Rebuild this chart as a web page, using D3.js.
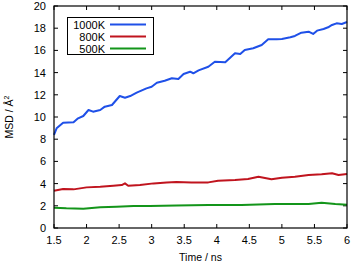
<!DOCTYPE html>
<html><head><meta charset="utf-8">
<script src="https://cdn.jsdelivr.net/npm/d3@7"></script>
<style>body{margin:0;background:#fff}svg{display:block}text{font-family:"Liberation Sans",Arial,sans-serif;fill:#000}</style>
</head><body><svg id="c" width="353" height="265"></svg>
<script>
const xTicks = [1.5, 2, 2.5, 3, 3.5, 4, 4.5, 5, 5.5, 6];
const yTicks = [0, 2, 4, 6, 8, 10, 12, 14, 16, 18, 20];
const seriesNames = ["1000K", "800K", "500K"];
const seriesColors = ["#1f50e8", "#c0141e", "#13951a"];
const t1000 = [1.5,1.54,1.64,1.8,1.87,1.95,2.03,2.1,2.21,2.28,2.39,2.51,2.59,2.67,2.77,2.92,3.0,3.08,3.2,3.31,3.41,3.49,3.59,3.64,3.72,3.87,3.97,4.13,4.28,4.36,4.43,4.56,4.69,4.79,4.92,5.0,5.13,5.2,5.3,5.41,5.48,5.54,5.64,5.71,5.77,5.84,5.92,6.0];
const v1000 = [8.4,8.98,9.49,9.52,9.88,10.09,10.63,10.48,10.63,10.93,11.08,11.89,11.74,11.89,12.19,12.58,12.73,13.09,13.27,13.49,13.42,13.87,14.08,13.94,14.2,14.53,14.98,14.93,15.74,15.68,16.04,16.19,16.49,17.0,17.0,17.03,17.18,17.3,17.6,17.69,17.48,17.78,17.93,18.08,18.29,18.44,18.38,18.56];
const t800 = [1.5,1.64,1.8,1.9,2.0,2.21,2.41,2.54,2.59,2.64,2.82,3.03,3.23,3.38,3.61,3.87,4.02,4.28,4.48,4.64,4.84,5.0,5.2,5.41,5.61,5.77,5.87,6.0];
const v800 = [3.36,3.51,3.48,3.57,3.66,3.72,3.81,3.87,4.02,3.81,3.87,4.02,4.11,4.14,4.11,4.11,4.26,4.32,4.41,4.62,4.39,4.53,4.62,4.77,4.84,4.93,4.77,4.86];
const t500 = [1.5,1.69,1.95,2.21,2.46,2.72,2.97,3.38,3.87,4.38,4.89,5.41,5.61,5.82,6.0];
const v500 = [1.83,1.77,1.74,1.86,1.92,1.98,1.98,2.03,2.07,2.07,2.16,2.16,2.28,2.16,2.1];

const svg = d3.select("#c");
const L = 54, R = 347, T = 6, B = 228;
const x = d3.scaleLinear().domain([1.5, 6]).range([L, R]);
const y = d3.scaleLinear().domain([0, 20]).range([B, T]);

// ticks (inward, mirrored)
const g = svg.append("g");
xTicks.forEach(v => {
  g.append("line").attr("x1", x(v)).attr("x2", x(v)).attr("y1", B).attr("y2", B - 4).attr("stroke", "#000");
  g.append("line").attr("x1", x(v)).attr("x2", x(v)).attr("y1", T).attr("y2", T + 4).attr("stroke", "#000");
  g.append("text").attr("x", x(v)).attr("y", 244).attr("text-anchor", "middle").attr("font-size", 11).text(v);
});
yTicks.forEach(v => {
  g.append("line").attr("x1", L).attr("x2", L + 4).attr("y1", y(v)).attr("y2", y(v)).attr("stroke", "#000");
  g.append("line").attr("x1", R).attr("x2", R - 4).attr("y1", y(v)).attr("y2", y(v)).attr("stroke", "#000");
  g.append("text").attr("x", 46).attr("y", y(v) + 4).attr("text-anchor", "end").attr("font-size", 11).text(v);
});

const line = d3.line().x(d => x(d[0])).y(d => y(d[1]));
const data = [d3.zip(t1000, v1000), d3.zip(t800, v800), d3.zip(t500, v500)];
data.forEach((d, i) => {
  svg.append("path").datum(d).attr("d", line).attr("fill", "none")
    .attr("stroke", seriesColors[i]).attr("stroke-width", 2).attr("stroke-linejoin", "round");
});

svg.append("rect").attr("x", L).attr("y", T).attr("width", R - L).attr("height", B - T)
  .attr("fill", "none").attr("stroke", "#000").attr("stroke-width", 1.2);

// legend
svg.append("rect").attr("x", 67.5).attr("y", 17.5).attr("width", 86).attr("height", 37)
  .attr("fill", "#fff").attr("stroke", "#000");
const rows = [24.5, 36.5, 48.5];
seriesNames.forEach((n, i) => {
  svg.append("text").attr("x", 105).attr("y", rows[i] + 4).attr("text-anchor", "end").attr("font-size", 11).text(n);
  svg.append("line").attr("x1", 110).attr("x2", 146).attr("y1", rows[i]).attr("y2", rows[i])
    .attr("stroke", seriesColors[i]).attr("stroke-width", 2);
});

svg.append("text").attr("x", (L + R) / 2).attr("y", 261).attr("text-anchor", "middle").attr("font-size", 10.5).text("Time / ns");
svg.append("text").attr("transform", `translate(13,${(T + B) / 2}) rotate(-90)`).attr("text-anchor", "middle")
  .attr("font-size", 10.5).html('MSD / Å<tspan dy="-4" font-size="7">2</tspan>');
</script></body></html>
